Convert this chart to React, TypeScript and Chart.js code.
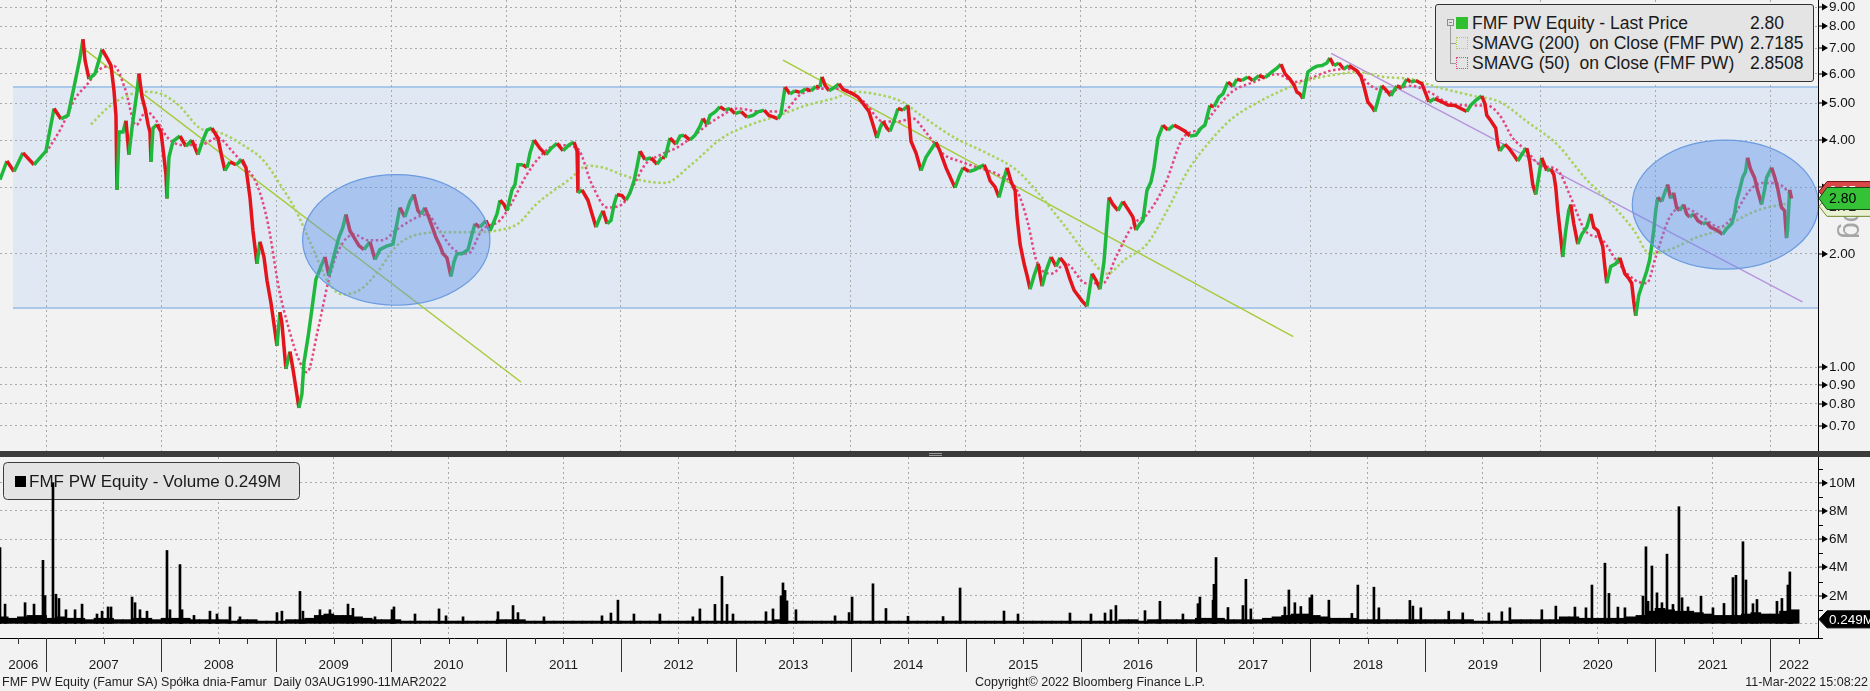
import React, { useEffect, useRef } from "react";
import { Chart, registerables } from "chart.js";

Chart.register(...registerables);

// ---------------- data ----------------
const priceDates = [
  2006.597, 2006.657, 2006.719, 2006.797, 2006.893, 2006.997, 2007.067, 2007.128, 2007.189, 2007.25,
  2007.293, 2007.319, 2007.337, 2007.372, 2007.424, 2007.485, 2007.528, 2007.563, 2007.589, 2007.606,
  2007.615, 2007.633, 2007.667, 2007.693, 2007.719, 2007.745, 2007.789, 2007.806, 2007.833, 2007.859,
  2007.885, 2007.902, 2007.911, 2007.928, 2007.963, 2007.998, 2008.024, 2008.041, 2008.05, 2008.067,
  2008.102, 2008.163, 2008.215, 2008.267, 2008.319, 2008.363, 2008.398, 2008.441, 2008.493, 2008.528,
  2008.554, 2008.598, 2008.65, 2008.702, 2008.737, 2008.772, 2008.798, 2008.833, 2008.859, 2008.894,
  2008.92, 2008.955, 2008.981, 2009.007, 2009.033, 2009.05, 2009.085, 2009.12, 2009.146, 2009.172,
  2009.198, 2009.224, 2009.242, 2009.277, 2009.303, 2009.346, 2009.39, 2009.425, 2009.459, 2009.485,
  2009.546, 2009.581, 2009.607, 2009.642, 2009.677, 2009.72, 2009.764, 2009.816, 2009.86, 2009.903,
  2009.955, 2010.016, 2010.077, 2010.12, 2010.164, 2010.199, 2010.234, 2010.26, 2010.295, 2010.338,
  2010.39, 2010.425, 2010.451, 2010.486, 2010.521, 2010.547, 2010.573, 2010.617, 2010.669, 2010.704,
  2010.73, 2010.773, 2010.826, 2010.861, 2010.887, 2010.922, 2010.948, 2010.983, 2011.009, 2011.052,
  2011.078, 2011.104, 2011.148, 2011.183, 2011.209, 2011.244, 2011.296, 2011.348, 2011.392, 2011.444,
  2011.496, 2011.548, 2011.592, 2011.618, 2011.626, 2011.661, 2011.713, 2011.748, 2011.783, 2011.818,
  2011.844, 2011.879, 2011.914, 2011.94, 2011.966, 2012.009, 2012.044, 2012.079, 2012.114, 2012.14,
  2012.166, 2012.209, 2012.262, 2012.314, 2012.357, 2012.384, 2012.427, 2012.479, 2012.514, 2012.549,
  2012.601, 2012.645, 2012.688, 2012.714, 2012.749, 2012.775, 2012.819, 2012.862, 2012.906, 2012.949,
  2012.992, 2013.045, 2013.097, 2013.149, 2013.193, 2013.245, 2013.288, 2013.332, 2013.367, 2013.393,
  2013.428, 2013.471, 2013.514, 2013.558, 2013.61, 2013.654, 2013.697, 2013.732, 2013.749, 2013.775,
  2013.81, 2013.854, 2013.897, 2013.932, 2013.975, 2014.019, 2014.062, 2014.106, 2014.158, 2014.193,
  2014.228, 2014.254, 2014.28, 2014.315, 2014.341, 2014.376, 2014.411, 2014.454, 2014.498, 2014.524,
  2014.567, 2014.611, 2014.654, 2014.707, 2014.741, 2014.776, 2014.828, 2014.863, 2014.907, 2014.942,
  2014.977, 2015.029, 2015.081, 2015.125, 2015.16, 2015.186, 2015.212, 2015.256, 2015.29, 2015.325,
  2015.36, 2015.395, 2015.43, 2015.447, 2015.473, 2015.508, 2015.534, 2015.56, 2015.595, 2015.63,
  2015.665, 2015.699, 2015.743, 2015.786, 2015.821, 2015.864, 2015.908, 2015.943, 2015.977, 2016.012,
  2016.055, 2016.099, 2016.134, 2016.168, 2016.203, 2016.229, 2016.247, 2016.281, 2016.325, 2016.368,
  2016.42, 2016.455, 2016.481, 2016.516, 2016.542, 2016.577, 2016.612, 2016.638, 2016.673, 2016.716,
  2016.76, 2016.812, 2016.864, 2016.908, 2016.951, 2017.003, 2017.047, 2017.081, 2017.125, 2017.16,
  2017.203, 2017.238, 2017.282, 2017.325, 2017.36, 2017.403, 2017.455, 2017.499, 2017.551, 2017.603,
  2017.664, 2017.708, 2017.743, 2017.778, 2017.821, 2017.856, 2017.882, 2017.908, 2017.934, 2017.96,
  2017.978, 2018.021, 2018.056, 2018.1, 2018.143, 2018.169, 2018.204, 2018.247, 2018.29, 2018.334,
  2018.369, 2018.403, 2018.438, 2018.464, 2018.499, 2018.534, 2018.56, 2018.595, 2018.621, 2018.664,
  2018.699, 2018.725, 2018.751, 2018.795, 2018.838, 2018.873, 2018.916, 2018.969, 2019.004, 2019.03,
  2019.082, 2019.143, 2019.195, 2019.256, 2019.308, 2019.36, 2019.395, 2019.438, 2019.49, 2019.517,
  2019.534, 2019.569, 2019.612, 2019.63, 2019.647, 2019.691, 2019.725, 2019.769, 2019.804, 2019.847,
  2019.882, 2019.908, 2019.934, 2019.96, 2019.986, 2020.012, 2020.056, 2020.091, 2020.117, 2020.134,
  2020.152, 2020.178, 2020.195, 2020.221, 2020.247, 2020.265, 2020.291, 2020.326, 2020.361, 2020.404,
  2020.439, 2020.465, 2020.5, 2020.543, 2020.561, 2020.578, 2020.613, 2020.656, 2020.691, 2020.735,
  2020.769, 2020.795, 2020.812, 2020.83, 2020.856, 2020.891, 2020.926, 2020.952, 2020.969, 2020.987,
  2021.004, 2021.022, 2021.056, 2021.091, 2021.108, 2021.134, 2021.16, 2021.186, 2021.212, 2021.247,
  2021.273, 2021.299, 2021.334, 2021.369, 2021.412, 2021.447, 2021.482, 2021.534, 2021.56, 2021.586,
  2021.621, 2021.664, 2021.69, 2021.708, 2021.734, 2021.76, 2021.786, 2021.803, 2021.829, 2021.864,
  2021.89, 2021.925, 2021.951, 2021.969, 2021.995, 2022.012, 2022.038, 2022.064, 2022.082, 2022.099,
  2022.125, 2022.142, 2022.151, 2022.169, 2022.186,
];
const priceClose = [
  3.14, 3.52, 3.3, 3.7, 3.44, 3.74, 4.85, 4.55, 4.65, 5.7,
  6.6, 7.4, 6.5, 5.8, 6.0, 6.95, 6.6, 6.3, 5.4, 4.65,
  2.95, 4.2, 4.2, 4.5, 3.66, 4.3, 5.37, 6.0, 5.2, 4.85,
  4.4, 4.2, 3.5, 4.3, 4.4, 4.2, 3.6, 3.24, 2.8, 3.6,
  3.97, 4.1, 3.85, 4.0, 3.66, 4.0, 4.25, 4.3, 4.05, 3.6,
  3.32, 3.5, 3.44, 3.55, 3.38, 2.82, 2.3, 1.88, 2.15, 1.96,
  1.7, 1.48, 1.3, 1.14, 1.4, 1.31, 0.99, 1.1, 0.99, 0.88,
  0.78, 0.85, 1.03, 1.2, 1.37, 1.71, 1.85, 1.96, 1.75, 1.88,
  2.21, 2.35, 2.54, 2.3, 2.21, 2.1, 2.05, 2.15, 1.93, 2.05,
  2.09, 2.12, 2.65, 2.5, 2.75, 2.87, 2.6, 2.54, 2.65, 2.45,
  2.21, 2.1, 2.0, 1.95, 1.74, 1.9, 2.0, 2.0, 2.05, 2.25,
  2.4, 2.35, 2.45, 2.3, 2.4, 2.55, 2.77, 2.7, 2.6, 2.95,
  3.05, 3.44, 3.44, 3.38, 3.7, 4.0, 3.8, 3.66, 3.8, 3.92,
  3.75, 3.88, 3.95, 3.74, 2.9, 2.95, 2.77, 2.55, 2.35, 2.5,
  2.6, 2.4, 2.45, 2.7, 2.87, 2.85, 2.77, 2.9, 3.12, 3.4,
  3.74, 3.55, 3.59, 3.45, 3.6, 3.59, 4.05, 3.9, 4.1, 4.12,
  4.0, 4.12, 4.35, 4.56, 4.4, 4.65, 4.75, 4.9, 4.8, 4.85,
  4.7, 4.76, 4.6, 4.65, 4.75, 4.8, 4.65, 4.6, 4.55, 4.7,
  5.53, 5.3, 5.4, 5.35, 5.47, 5.4, 5.55, 5.53, 5.88, 5.6,
  5.4, 5.5, 5.64, 5.45, 5.37, 5.3, 5.2, 5.0, 4.76, 4.4,
  4.05, 4.3, 4.48, 4.3, 4.22, 4.5, 4.85, 4.8, 4.94, 3.97,
  3.7, 3.32, 3.6, 3.81, 3.95, 3.74, 3.38, 3.2, 2.99, 3.2,
  3.38, 3.3, 3.34, 3.4, 3.44, 3.3, 3.12, 3.0, 2.82, 3.1,
  3.38, 3.1, 2.94, 2.5, 2.12, 1.88, 1.75, 1.61, 1.75, 1.88,
  1.64, 1.8, 1.96, 1.85, 1.95, 1.88, 1.71, 1.6, 1.55, 1.5,
  1.45, 1.77, 1.7, 1.61, 1.9, 2.4, 2.82, 2.7, 2.6, 2.75,
  2.6, 2.5, 2.31, 2.4, 2.45, 2.94, 3.1, 3.38, 4.05, 4.38,
  4.25, 4.38, 4.3, 4.22, 4.1, 4.12, 4.3, 4.38, 4.94, 4.9,
  5.2, 5.3, 5.7, 5.55, 5.8, 5.75, 5.88, 5.75, 5.93, 5.85,
  6.06, 6.2, 6.35, 6.0, 5.8, 5.6, 5.36, 5.3, 5.15, 5.7,
  6.06, 6.2, 6.28, 6.3, 6.4, 6.6, 6.3, 6.4, 6.17, 6.3,
  6.2, 6.1, 5.9, 5.57, 5.05, 4.9, 4.76, 5.2, 5.57, 5.4,
  5.24, 5.4, 5.57, 5.5, 5.8, 5.7, 5.75, 5.64, 5.3, 5.05,
  5.15, 5.05, 4.95, 4.94, 4.85, 4.76, 4.95, 5.1, 5.24, 5.0,
  4.65, 4.5, 4.3, 3.9, 3.74, 3.9, 3.81, 3.65, 3.52, 3.7,
  3.81, 3.5, 3.05, 2.87, 3.2, 3.59, 3.32, 3.35, 3.24, 3.0,
  2.6, 2.2, 1.96, 2.3, 2.6, 2.7, 2.4, 2.12, 2.25, 2.35,
  2.55, 2.35, 2.3, 2.09, 1.85, 1.67, 1.85, 1.88, 1.95, 1.77,
  1.72, 1.67, 1.5, 1.37, 1.55, 1.67, 1.8, 1.93, 2.1, 2.31,
  2.6, 2.82, 2.75, 2.95, 3.05, 2.8, 2.9, 2.65, 2.6, 2.7,
  2.55, 2.5, 2.55, 2.45, 2.4, 2.42, 2.35, 2.31, 2.28, 2.25,
  2.33, 2.4, 2.55, 2.77, 2.95, 3.18, 3.3, 3.59, 3.35, 3.18,
  2.95, 2.7, 2.95, 3.18, 3.3, 3.38, 3.2, 2.99, 2.8, 2.65,
  2.6, 2.2, 2.31, 2.95, 2.8,
];

const sma200Dates = [
  2007.389, 2007.528, 2007.65, 2007.841, 2007.998, 2008.154, 2008.337, 2008.52, 2008.711, 2008.894,
  2009.05, 2009.172, 2009.303, 2009.459, 2009.581, 2009.738, 2009.895, 2010.043, 2010.234, 2010.477,
  2010.695, 2010.948, 2011.104, 2011.261, 2011.548, 2011.713, 2011.844, 2012.009, 2012.149, 2012.384,
  2012.61, 2012.88, 2013.115, 2013.376, 2013.61, 2013.845, 2014.045, 2014.211, 2014.446, 2014.611,
  2014.907, 2015.177, 2015.447, 2015.612, 2015.847, 2016.073, 2016.229, 2016.386, 2016.577, 2016.734,
  2016.934, 2017.125, 2017.317, 2017.551, 2017.786, 2018.013, 2018.247, 2018.403, 2018.638, 2018.873,
  2019.099, 2019.413, 2019.647, 2019.882, 2020.152, 2020.387, 2020.622, 2020.813, 2020.952, 2021.126,
  2021.361, 2021.56, 2021.708, 2021.882, 2022.108, 2022.186,
];
const sma200Values = [
  4.4, 4.85, 5.15, 5.37, 5.3, 4.94, 4.3, 4.17, 3.88, 3.52,
  3.0, 2.6, 2.12, 1.67, 1.56, 1.61, 1.81, 2.09, 2.25, 2.28,
  2.28, 2.31, 2.4, 2.7, 3.14, 3.42, 3.38, 3.24, 3.14, 3.08,
  3.44, 4.05, 4.38, 4.65, 4.94, 5.15, 5.37, 5.3, 5.05, 4.65,
  4.05, 3.7, 3.32, 2.94, 2.4, 1.96, 1.77, 1.93, 2.12, 2.54,
  3.32, 3.97, 4.56, 5.05, 5.47, 5.8, 5.98, 6.06, 5.88, 5.8,
  5.53, 5.24, 5.05, 4.48, 3.88, 3.18, 2.7, 2.31, 2.0, 2.05,
  2.21, 2.31, 2.45, 2.6, 2.7, 2.7185,
];

const sma50Dates = [
  2006.997, 2007.128, 2007.25, 2007.346, 2007.467, 2007.589, 2007.685, 2007.78, 2007.868, 2007.963,
  2008.059, 2008.181, 2008.337, 2008.493, 2008.616, 2008.737, 2008.833, 2008.929, 2009.025, 2009.112,
  2009.19, 2009.268, 2009.364, 2009.459, 2009.546, 2009.677, 2009.799, 2009.921, 2010.043, 2010.173,
  2010.312, 2010.417, 2010.547, 2010.669, 2010.791, 2010.948, 2011.043, 2011.165, 2011.287, 2011.444,
  2011.618, 2011.748, 2011.879, 2012.009, 2012.114, 2012.209, 2012.349, 2012.479, 2012.61, 2012.749,
  2012.88, 2013.01, 2013.21, 2013.41, 2013.549, 2013.714, 2013.914, 2014.114, 2014.28, 2014.411,
  2014.541, 2014.646, 2014.811, 2014.942, 2015.107, 2015.281, 2015.447, 2015.543, 2015.612, 2015.743,
  2015.873, 2016.047, 2016.195, 2016.308, 2016.464, 2016.577, 2016.734, 2016.89, 2017.047, 2017.16,
  2017.317, 2017.508, 2017.708, 2017.865, 2017.978, 2018.169, 2018.369, 2018.525, 2018.673, 2018.873,
  2019.03, 2019.178, 2019.378, 2019.534, 2019.647, 2019.76, 2019.882, 2019.995, 2020.152, 2020.265,
  2020.387, 2020.543, 2020.656, 2020.813, 2020.926, 2021.004, 2021.126, 2021.239, 2021.412, 2021.56,
  2021.673, 2021.821, 2021.934, 2022.082, 2022.186,
];
const sma50Values = [
  3.7, 4.3, 5.15, 5.57, 6.17, 6.28, 5.47, 4.38, 4.76, 4.48,
  4.05, 3.88, 3.88, 4.05, 3.74, 3.38, 3.05, 2.4, 1.61, 1.26,
  1.06, 0.97, 1.26, 1.71, 2.05, 2.25, 2.17, 2.17, 2.31, 2.45,
  2.54, 2.31, 2.05, 2.0, 2.31, 2.45, 2.7, 3.18, 3.59, 3.88,
  3.81, 3.05, 2.65, 2.7, 3.05, 3.44, 3.66, 3.81, 4.05, 4.38,
  4.65, 4.85, 4.76, 4.76, 5.24, 5.47, 5.47, 5.05, 4.48, 4.48,
  4.56, 4.22, 3.66, 3.52, 3.38, 3.24, 2.94, 2.4, 1.93, 1.77,
  1.88, 1.67, 1.67, 1.96, 2.4, 2.54, 3.05, 4.05, 4.3, 4.76,
  5.37, 5.7, 5.98, 5.7, 5.8, 6.1, 6.17, 5.57, 5.37, 5.57,
  5.37, 5.05, 4.94, 4.94, 4.65, 4.05, 3.74, 3.44, 3.32, 2.82,
  2.31, 2.17, 1.93, 1.71, 1.67, 1.96, 2.5, 2.65, 2.5, 2.35,
  2.5, 2.94, 3.08, 3.05, 2.8508,
];

// trend lines drawn by hand on the original chart (date, price)
const trendA_Dates = [2007.31, 2011.13];
const trendA_Values = [7.04, 0.914];
const trendB_Dates = [2013.41, 2017.85];
const trendB_Values = [6.51, 1.205];
const trendC_Dates = [2018.18, 2022.28];
const trendC_Values = [6.79, 1.49];

// shaded trading range and the two circled zones (date / price space)
const rangeStart = 2006.71;
const rangeTop = 5.53;
const rangeBottom = 1.435;
const zoneA = [2009.23, 2010.86, 3.24, 1.46];
const zoneB = [2020.8, 2022.42, 4.0, 1.82];

const priceTicks = [0.7, 0.8, 0.9, 1, 2, 3, 4, 5, 6, 7, 8, 9];
const volumeTicks = [0, 2, 4, 6, 8, 10];
const years = [2006, 2007, 2008, 2009, 2010, 2011, 2012, 2013, 2014, 2015, 2016, 2017, 2018, 2019, 2020, 2021, 2022];

const lastPrice = 2.8;
const lastSma200 = 2.7185;
const lastSma50 = 2.8508;
const lastVolume = 0.249;

// monthly base volume (M), Aug 2006 .. Mar 2022
const volumeFloor = [
  0.5, 0.4, 0.5, 0.6, 0.6,
  0.4, 0.5, 0.4, 0.4, 0.3, 0.4, 0.4, 0.3, 0.3, 0.4, 0.4, 0.3,
  0.4, 0.4, 0.4, 0.3, 0.3, 0.3, 0.3, 0.2, 0.3, 0.3, 0.2, 0.2,
  0.2, 0.3, 0.3, 0.4, 0.6, 0.7, 0.6, 0.6, 0.5, 0.4, 0.3, 0.3,
  0.3, 0.2, 0.2, 0.2, 0.2, 0.2, 0.2, 0.2, 0.2, 0.2, 0.2, 0.3,
  0.3, 0.3, 0.2, 0.2, 0.2, 0.2, 0.2, 0.2, 0.2, 0.2, 0.2, 0.2,
  0.2, 0.2, 0.2, 0.2, 0.2, 0.2, 0.2, 0.2, 0.2, 0.2, 0.2, 0.2,
  0.2, 0.2, 0.2, 0.2, 0.3, 0.2, 0.2, 0.2, 0.2, 0.2, 0.2, 0.2,
  0.2, 0.2, 0.2, 0.2, 0.2, 0.2, 0.2, 0.2, 0.2, 0.2, 0.2, 0.2,
  0.2, 0.2, 0.2, 0.2, 0.2, 0.2, 0.2, 0.2, 0.2, 0.2, 0.2, 0.2,
  0.2, 0.2, 0.2, 0.2, 0.3, 0.3, 0.2, 0.3, 0.3, 0.3, 0.3, 0.3,
  0.4, 0.4, 0.4, 0.3, 0.3, 0.3, 0.3, 0.4, 0.5, 0.6, 0.7, 0.7,
  0.6, 0.5, 0.4, 0.4, 0.4, 0.3, 0.3, 0.3, 0.3, 0.3, 0.3, 0.3,
  0.3, 0.3, 0.3, 0.3, 0.3, 0.2, 0.2, 0.2, 0.2, 0.3, 0.3, 0.3,
  0.3, 0.3, 0.5, 0.5, 0.4, 0.4, 0.4, 0.4, 0.4, 0.5, 0.6, 0.9,
  1.1, 1.0, 0.9, 0.9, 0.8, 0.7, 0.6, 0.6, 0.6, 0.7, 0.8, 0.7,
  0.7, 0.9, 1.0,
];

const volumeSpikeDates = [
  2006.597, 2006.641, 2006.815, 2006.893, 2006.971, 2006.989, 2007.058, 2007.084, 2007.11, 2007.171,
  2007.25, 2007.311, 2007.441, 2007.485, 2007.537, 2007.563, 2007.746, 2007.772, 2007.815, 2007.876,
  2008.05, 2008.076, 2008.163, 2008.181, 2008.285, 2008.424, 2008.485, 2008.598, 2008.685, 2009.007,
  2009.05, 2009.207, 2009.233, 2009.381, 2009.468, 2009.625, 2009.668, 2009.86, 2010.008, 2010.025,
  2010.208, 2010.417, 2010.478, 2010.626, 2010.93, 2011.061, 2011.104, 2011.33, 2011.835, 2011.913,
  2011.974, 2012.113, 2012.339, 2012.626, 2012.687, 2012.818, 2012.879, 2012.923, 2012.975, 2013.262,
  2013.323, 2013.393, 2013.41, 2013.428, 2013.445, 2013.523, 2013.863, 2013.985, 2014.011, 2014.193,
  2014.306, 2014.498, 2014.803, 2014.951, 2015.333, 2015.455, 2015.907, 2016.09, 2016.212, 2016.264,
  2016.307, 2016.56, 2016.69, 2016.89, 2017.021, 2017.038, 2017.152, 2017.16, 2017.178, 2017.282,
  2017.412, 2017.438, 2017.481, 2017.777, 2017.812, 2017.864, 2017.916, 2017.995, 2018.012, 2018.16,
  2018.36, 2018.412, 2018.552, 2018.595, 2018.865, 2018.891, 2018.96, 2019.203, 2019.325, 2019.552,
  2019.665, 2019.735, 2020.013, 2020.135, 2020.301, 2020.397, 2020.449, 2020.562, 2020.597, 2020.675,
  2020.736, 2020.893, 2020.919, 2020.937, 2020.971, 2021.015, 2021.058, 2021.102, 2021.154, 2021.206,
  2021.233, 2021.285, 2021.398, 2021.502, 2021.598, 2021.676, 2021.702, 2021.763, 2021.789, 2021.85,
  2021.885, 2022.059, 2022.102, 2022.154, 2022.171, 2022.19,
];
const volumeSpikeValues = [
  5.4, 1.4, 1.5, 1.4, 4.5, 2.0, 10.0, 2.1, 1.8, 1.0,
  1.0, 1.4, 0.7, 0.9, 1.2, 1.2, 1.9, 1.5, 1.0, 0.9,
  5.2, 1.0, 4.2, 1.0, 0.6, 0.9, 0.7, 1.2, 0.5, 0.8,
  0.9, 2.3, 0.9, 1.0, 1.0, 1.4, 1.1, 0.5, 1.0, 1.2,
  0.7, 1.06, 0.57, 0.5, 0.86, 1.3, 0.8, 0.5, 0.57, 0.77,
  1.68, 0.7, 0.7, 0.5, 1.06, 1.38, 3.36, 1.38, 0.7, 0.86,
  1.06, 1.98, 2.9, 2.37, 1.63, 1.0, 0.57, 0.8, 1.9, 2.84,
  1.09, 0.54, 0.52, 2.54, 0.91, 0.7, 0.77, 0.7, 0.77, 1.0,
  1.3, 0.94, 1.6, 0.7, 1.43, 1.9, 1.68, 2.8, 4.7, 1.16,
  1.3, 3.16, 1.06, 1.2, 2.4, 1.5, 1.23, 1.85, 2.05, 1.68,
  0.74, 2.75, 2.6, 1.14, 1.66, 1.26, 1.14, 0.9, 0.78, 0.78,
  0.86, 1.14, 1.0, 1.26, 1.19, 1.14, 2.75, 4.3, 2.16, 1.19,
  1.14, 1.97, 5.46, 1.6, 4.1, 2.2, 1.5, 4.94, 1.38, 8.3,
  1.85, 1.2, 1.95, 1.14, 1.45, 3.28, 3.44, 5.82, 3.11, 1.43,
  1.73, 1.6, 1.8, 2.75, 3.68, 0.249,
];

// ---------------- styling ----------------
const FONT = '"Liberation Sans", Arial, Helvetica, sans-serif';
const BG = "#f2f2f2";
const GRID = "#a9a9a9";
const UP = "#1fb83c";
const DOWN = "#e3141c";
const SMA200_C = "#a8d25a";
const SMA50_C = "#e6467f";
const TREND_GREEN = "#a6cb3a";
const TREND_PURPLE = "#b793dc";

const T_MIN = 2006.597;
const T_MAX = 2022.416;
const PRICE_MIN = 0.621;
const PRICE_MAX = 9.4;
const VOL_MIN = -1.0;
const VOL_MAX = 11.82;

const xy = (xs: number[], ys: number[]) => xs.map((x, i) => ({ x, y: ys[i] }));

function arrowTick(ctx: CanvasRenderingContext2D, x: number, y: number) {
  ctx.beginPath();
  ctx.moveTo(x, y - 0.5);
  ctx.lineTo(x + 3, y - 0.5);
  ctx.lineTo(x + 3, y - 3.5);
  ctx.lineTo(x + 9, y);
  ctx.lineTo(x + 3, y + 3.5);
  ctx.lineTo(x + 3, y + 0.5);
  ctx.lineTo(x, y + 0.5);
  ctx.closePath();
  ctx.fillStyle = "#000";
  ctx.fill();
}

function valueTag(
  ctx: CanvasRenderingContext2D,
  x0: number,
  yc: number,
  w: number,
  h: number,
  fill: string,
  stroke: string,
  text: string,
  color: string,
  font: string
) {
  ctx.beginPath();
  ctx.moveTo(x0, yc);
  ctx.lineTo(x0 + 8, yc - h / 2);
  ctx.lineTo(x0 + w, yc - h / 2);
  ctx.lineTo(x0 + w, yc + h / 2);
  ctx.lineTo(x0 + 8, yc + h / 2);
  ctx.closePath();
  ctx.fillStyle = fill;
  ctx.fill();
  ctx.strokeStyle = stroke;
  ctx.lineWidth = 1;
  ctx.stroke();
  ctx.fillStyle = color;
  ctx.font = font;
  ctx.textAlign = "left";
  ctx.textBaseline = "middle";
  ctx.fillText(text, x0 + 10, yc + 0.5);
}

const pricePlugin = {
  id: "priceDecor",
  beforeDraw(chart: any) {
    const { ctx, chartArea, scales } = chart;
    const x = scales.x;
    const y = scales.y;
    ctx.save();
    ctx.fillStyle = BG;
    ctx.fillRect(0, 0, chart.width, chart.height);
    const bx0 = x.getPixelForValue(rangeStart);
    const bx1 = chartArea.right;
    const by0 = y.getPixelForValue(rangeTop);
    const by1 = y.getPixelForValue(rangeBottom);
    ctx.fillStyle = "#dfe8f3";
    ctx.fillRect(bx0, by0, bx1 - bx0, by1 - by0);
    ctx.strokeStyle = "#97bce8";
    ctx.lineWidth = 1.5;
    ctx.beginPath();
    ctx.moveTo(bx0, by0);
    ctx.lineTo(bx1, by0);
    ctx.moveTo(bx0, by1);
    ctx.lineTo(bx1, by1);
    ctx.stroke();
    ctx.restore();
  },
  afterDatasetsDraw(chart: any) {
    const { ctx, chartArea, scales } = chart;
    const x = scales.x;
    const y = scales.y;
    ctx.save();
    ctx.beginPath();
    ctx.rect(chartArea.left, chartArea.top, chartArea.right - chartArea.left, chartArea.bottom - chartArea.top);
    ctx.clip();
    [zoneA, zoneB].forEach((z) => {
      const x0 = x.getPixelForValue(z[0]);
      const x1 = x.getPixelForValue(z[1]);
      const y0 = y.getPixelForValue(z[2]);
      const y1 = y.getPixelForValue(z[3]);
      ctx.beginPath();
      ctx.ellipse((x0 + x1) / 2, (y0 + y1) / 2, (x1 - x0) / 2, (y1 - y0) / 2, 0, 0, Math.PI * 2);
      ctx.fillStyle = "rgba(96,146,232,0.42)";
      ctx.fill();
      ctx.strokeStyle = "#6a9be0";
      ctx.lineWidth = 1.2;
      ctx.stroke();
    });
    ctx.restore();
  },
  afterDraw(chart: any) {
    const { ctx, chartArea, scales } = chart;
    const y = scales.y;
    const ax = chartArea.right;
    ctx.save();
    ctx.strokeStyle = "#000";
    ctx.lineWidth = 1;
    ctx.beginPath();
    ctx.moveTo(ax + 0.5, 0);
    ctx.lineTo(ax + 0.5, chart.height);
    ctx.stroke();

    // "Log" marker
    ctx.save();
    ctx.translate(1851, 214);
    ctx.rotate(Math.PI / 2);
    ctx.font = `30px ${FONT}`;
    ctx.fillStyle = "#a6a6a6";
    ctx.textAlign = "center";
    ctx.textBaseline = "middle";
    ctx.fillText("Log", 0, 0);
    ctx.restore();

    ctx.font = `13.5px ${FONT}`;
    priceTicks.forEach((v) => {
      const py = Math.round(y.getPixelForValue(v));
      arrowTick(ctx, ax + 1, py);
      ctx.fillStyle = "#111";
      ctx.textAlign = "left";
      ctx.textBaseline = "middle";
      ctx.fillText(v.toFixed(2), ax + 11, py + 0.5);
    });

    const f = `14px ${FONT}`;
    valueTag(ctx, ax + 1, y.getPixelForValue(lastSma200) + 3, 52, 20, "#e9f1d2", "#6f8a2a", lastSma200.toFixed(2), "#222", f);
    valueTag(ctx, ax + 1, y.getPixelForValue(lastSma50) - 4, 52, 20, "#d94848", "#7a1010", lastSma50.toFixed(2), "#fff", f);
    valueTag(ctx, ax + 1, y.getPixelForValue(lastPrice), 52, 22, "#36c236", "#124a12", lastPrice.toFixed(2), "#000", f);
    ctx.restore();
  },
};

const volumePlugin = {
  id: "volumeDecor",
  beforeDraw(chart: any) {
    const { ctx } = chart;
    ctx.save();
    ctx.fillStyle = BG;
    ctx.fillRect(0, 0, chart.width, chart.height);
    ctx.restore();
  },
  beforeDatasetsDraw(chart: any) {
    // legend box sits under the bars, as in the original
    const { ctx } = chart;
    ctx.save();
    const bx = 3.5, by = 5.5, bw = 296, bh = 37, r = 4;
    ctx.beginPath();
    ctx.moveTo(bx + r, by);
    ctx.lineTo(bx + bw - r, by);
    ctx.quadraticCurveTo(bx + bw, by, bx + bw, by + r);
    ctx.lineTo(bx + bw, by + bh - r);
    ctx.quadraticCurveTo(bx + bw, by + bh, bx + bw - r, by + bh);
    ctx.lineTo(bx + r, by + bh);
    ctx.quadraticCurveTo(bx, by + bh, bx, by + bh - r);
    ctx.lineTo(bx, by + r);
    ctx.quadraticCurveTo(bx, by, bx + r, by);
    ctx.closePath();
    ctx.fillStyle = "#e4e4e4";
    ctx.fill();
    ctx.strokeStyle = "#3c3c3c";
    ctx.lineWidth = 1;
    ctx.stroke();
    ctx.fillStyle = "#000";
    ctx.fillRect(15, 19, 11, 11);
    ctx.font = `17px ${FONT}`;
    ctx.fillStyle = "#1a1a1a";
    ctx.textAlign = "left";
    ctx.textBaseline = "middle";
    ctx.fillText(`FMF PW Equity - Volume ${lastVolume}M`, 29, 25);
    ctx.restore();
  },
  afterDraw(chart: any) {
    const { ctx, chartArea, scales } = chart;
    const x = scales.x;
    const y = scales.y;
    const ax = chartArea.right;
    const bottom = chartArea.bottom;
    ctx.save();
    ctx.strokeStyle = "#000";
    ctx.lineWidth = 1;
    ctx.beginPath();
    ctx.moveTo(ax + 0.5, 0);
    ctx.lineTo(ax + 0.5, bottom + 0.5);
    ctx.moveTo(0, bottom + 0.5);
    ctx.lineTo(ax + 0.5, bottom + 0.5);
    ctx.stroke();

    // minor ticks on the volume axis
    ctx.beginPath();
    for (let v = -1; v <= 11; v += 2) {
      const py = Math.round(y.getPixelForValue(v)) + 0.5;
      ctx.moveTo(ax, py);
      ctx.lineTo(ax + 5, py);
    }
    ctx.stroke();

    ctx.font = `13.5px ${FONT}`;
    volumeTicks.forEach((v) => {
      if (v === 0) return;
      const py = Math.round(y.getPixelForValue(v));
      arrowTick(ctx, ax + 1, py);
      ctx.fillStyle = "#111";
      ctx.textAlign = "left";
      ctx.textBaseline = "middle";
      ctx.fillText(`${v}M`, ax + 11, py + 0.5);
    });
    valueTag(ctx, ax + 1, y.getPixelForValue(lastVolume) - 1, 52, 17, "#000", "#000", `${lastVolume}M`, "#fff", `13.5px ${FONT}`);

    // time axis: quarter ticks, year separators, labels
    ctx.strokeStyle = "#333";
    ctx.beginPath();
    years.forEach((yr) => {
      for (let q = 0; q < 4; q++) {
        const t = yr + q / 4;
        if (t <= T_MIN || t >= T_MAX) continue;
        const px = Math.round(x.getPixelForValue(t)) + 0.5;
        ctx.moveTo(px, bottom);
        ctx.lineTo(px, bottom + (q === 0 ? 34 : 6));
      }
    });
    ctx.stroke();
    ctx.font = `13.5px ${FONT}`;
    ctx.fillStyle = "#1a1a1a";
    ctx.textAlign = "center";
    ctx.textBaseline = "middle";
    years.forEach((yr) => {
      const a = Math.max(yr, T_MIN);
      const b = Math.min(yr + 1, T_MAX);
      const px = (x.getPixelForValue(a) + x.getPixelForValue(b)) / 2;
      ctx.fillText(String(yr), px, bottom + 27);
    });
    ctx.restore();
  },
};

function priceConfig(): any {
  const trend = (xs: number[], ys: number[], color: string) => ({
    data: xy(xs, ys),
    borderColor: color,
    borderWidth: 1.4,
    pointRadius: 0,
    tension: 0,
  });
  return {
    type: "line",
    data: {
      datasets: [
        {
          data: xy(priceDates, priceClose),
          borderColor: UP,
          borderWidth: 3.5,
          pointRadius: 0,
          tension: 0,
          borderJoinStyle: "miter",
          segment: {
            borderColor: (c: any) => (c.p1.parsed.y >= c.p0.parsed.y ? UP : DOWN),
          },
        },
        {
          data: xy(sma200Dates, sma200Values),
          borderColor: SMA200_C,
          borderWidth: 2.5,
          borderDash: [2.5, 2.5],
          pointRadius: 0,
          cubicInterpolationMode: "monotone",
        },
        {
          data: xy(sma50Dates, sma50Values),
          borderColor: SMA50_C,
          borderWidth: 2.5,
          borderDash: [2.5, 2.5],
          pointRadius: 0,
          cubicInterpolationMode: "monotone",
        },
        trend(trendA_Dates, trendA_Values, TREND_GREEN),
        trend(trendB_Dates, trendB_Values, TREND_GREEN),
        trend(trendC_Dates, trendC_Values, TREND_PURPLE),
      ],
    },
    options: {
      animation: false,
      responsive: false,
      maintainAspectRatio: false,
      events: [],
      layout: { padding: { left: 0, right: 52, top: 0, bottom: 0 } },
      plugins: { legend: { display: false }, tooltip: { enabled: false } },
      scales: {
        x: {
          type: "linear",
          min: T_MIN,
          max: T_MAX,
          offset: false,
          afterBuildTicks: (s: any) => {
            s.ticks = years.filter((v) => v > T_MIN && v < T_MAX).map((v) => ({ value: v }));
          },
          ticks: { display: false },
          grid: { color: GRID, drawTicks: false, lineWidth: 1 },
          border: { display: false, dash: [2, 3] },
        },
        y: {
          type: "logarithmic",
          position: "right",
          min: PRICE_MIN,
          max: PRICE_MAX,
          afterBuildTicks: (s: any) => {
            s.ticks = priceTicks.map((v) => ({ value: v }));
          },
          ticks: { display: false },
          grid: { color: GRID, drawTicks: false, lineWidth: 1 },
          border: { display: false, dash: [2, 3] },
        },
      },
    },
    plugins: [pricePlugin],
  };
}

function volumeConfig(): any {
  const floorDates = volumeFloor.map((_, i) => 2006 + (7 + i) / 12 + 1 / 24);
  return {
    type: "bar",
    data: {
      datasets: [
        {
          data: xy(floorDates, volumeFloor),
          backgroundColor: "#000",
          borderWidth: 0,
          barThickness: 10,
          grouped: false,
        },
        {
          data: xy(volumeSpikeDates, volumeSpikeValues),
          backgroundColor: "#000",
          borderWidth: 0,
          barThickness: 2,
          grouped: false,
        },
      ],
    },
    options: {
      animation: false,
      responsive: false,
      maintainAspectRatio: false,
      events: [],
      layout: { padding: { left: 0, right: 52, top: 0, bottom: 53 } },
      plugins: { legend: { display: false }, tooltip: { enabled: false } },
      scales: {
        x: {
          type: "linear",
          min: T_MIN,
          max: T_MAX,
          offset: false,
          afterBuildTicks: (s: any) => {
            s.ticks = years.filter((v) => v > T_MIN && v < T_MAX).map((v) => ({ value: v }));
          },
          ticks: { display: false },
          grid: { color: GRID, drawTicks: false, lineWidth: 1 },
          border: { display: false, dash: [2, 3] },
        },
        y: {
          type: "linear",
          position: "right",
          min: VOL_MIN,
          max: VOL_MAX,
          afterBuildTicks: (s: any) => {
            s.ticks = volumeTicks.map((v) => ({ value: v }));
          },
          ticks: { display: false },
          grid: { color: GRID, drawTicks: false, lineWidth: 1 },
          border: { display: false, dash: [2, 3] },
        },
      },
    },
    plugins: [volumePlugin],
  };
}

function PriceLegend() {
  const abs = (s: any) => ({ position: "absolute", ...s });
  const rows = [
    { label: "FMF PW Equity - Last Price", value: lastPrice.toFixed(2) },
    { label: "SMAVG (200)  on Close (FMF PW)", value: lastSma200.toFixed(4) },
    { label: "SMAVG (50)  on Close (FMF PW)", value: lastSma50.toFixed(4) },
  ];
  return (
    <div
      style={abs({
        left: 1435,
        top: 4,
        width: 379,
        height: 78,
        boxSizing: "border-box",
        background: "#e4e4e4",
        border: "1px solid #303030",
        borderRadius: 3,
        font: `17.5px ${FONT}`,
        color: "#1a1a1a",
      })}
    >
      <div style={abs({ left: 11, top: 14, width: 7, height: 7, border: "1px solid #8c8c8c", boxSizing: "border-box" })} />
      <div style={abs({ left: 13, top: 17, width: 3, height: 1, background: "#8c8c8c" })} />
      <div style={abs({ left: 14, top: 21, width: 1, height: 38, background: "#9c9c9c" })} />
      <div style={abs({ left: 14, top: 38, width: 6, height: 1, background: "#9c9c9c" })} />
      <div style={abs({ left: 14, top: 58, width: 6, height: 1, background: "#9c9c9c" })} />
      <div style={abs({ left: 20, top: 12, width: 12, height: 12, background: "#2fbf2f" })} />
      <div style={abs({ left: 20, top: 32, width: 12, height: 12, boxSizing: "border-box", border: `1px dotted ${SMA200_C}` })} />
      <div style={abs({ left: 20, top: 52, width: 12, height: 12, boxSizing: "border-box", border: `1px dotted ${SMA50_C}` })} />
      {rows.map((r, i) => (
        <React.Fragment key={i}>
          <div style={abs({ left: 36, top: 8 + i * 20, lineHeight: "20px", whiteSpace: "pre" })}>{r.label}</div>
          <div style={abs({ left: 314, top: 8 + i * 20, lineHeight: "20px", whiteSpace: "pre" })}>{r.value}</div>
        </React.Fragment>
      ))}
    </div>
  );
}

export default function App() {
  const priceRef = useRef<HTMLCanvasElement>(null);
  const volRef = useRef<HTMLCanvasElement>(null);

  useEffect(() => {
    const pc = new Chart(priceRef.current as HTMLCanvasElement, priceConfig());
    const vc = new Chart(volRef.current as HTMLCanvasElement, volumeConfig());
    return () => {
      pc.destroy();
      vc.destroy();
    };
  }, []);

  const foot = { position: "absolute" as const, top: 675, lineHeight: "14px", font: `12.5px ${FONT}`, color: "#1e1e1e", whiteSpace: "pre" as const };

  return (
    <div style={{ position: "absolute", left: 0, top: 0, width: 1870, height: 691, background: BG, overflow: "hidden" }}>
      <canvas ref={priceRef} width={1870} height={451} style={{ position: "absolute", left: 0, top: 0, width: 1870, height: 451 }} />
      <div style={{ position: "absolute", left: 0, top: 451, width: 1870, height: 6, background: "#3b3b3b" }} />
      <div style={{ position: "absolute", left: 929, top: 453, width: 13, height: 1, background: "#9a9a9a" }} />
      <div style={{ position: "absolute", left: 929, top: 455, width: 13, height: 1, background: "#9a9a9a" }} />
      <canvas ref={volRef} width={1870} height={234} style={{ position: "absolute", left: 0, top: 457, width: 1870, height: 234 }} />
      <PriceLegend />
      <div style={{ ...foot, left: 2 }}>{"FMF PW Equity (Famur SA) Spółka dnia-Famur  Daily 03AUG1990-11MAR2022"}</div>
      <div style={{ ...foot, left: 975 }}>{"Copyright© 2022 Bloomberg Finance L.P."}</div>
      <div style={{ ...foot, right: 2 }}>{"11-Mar-2022 15:08:22"}</div>
    </div>
  );
}
